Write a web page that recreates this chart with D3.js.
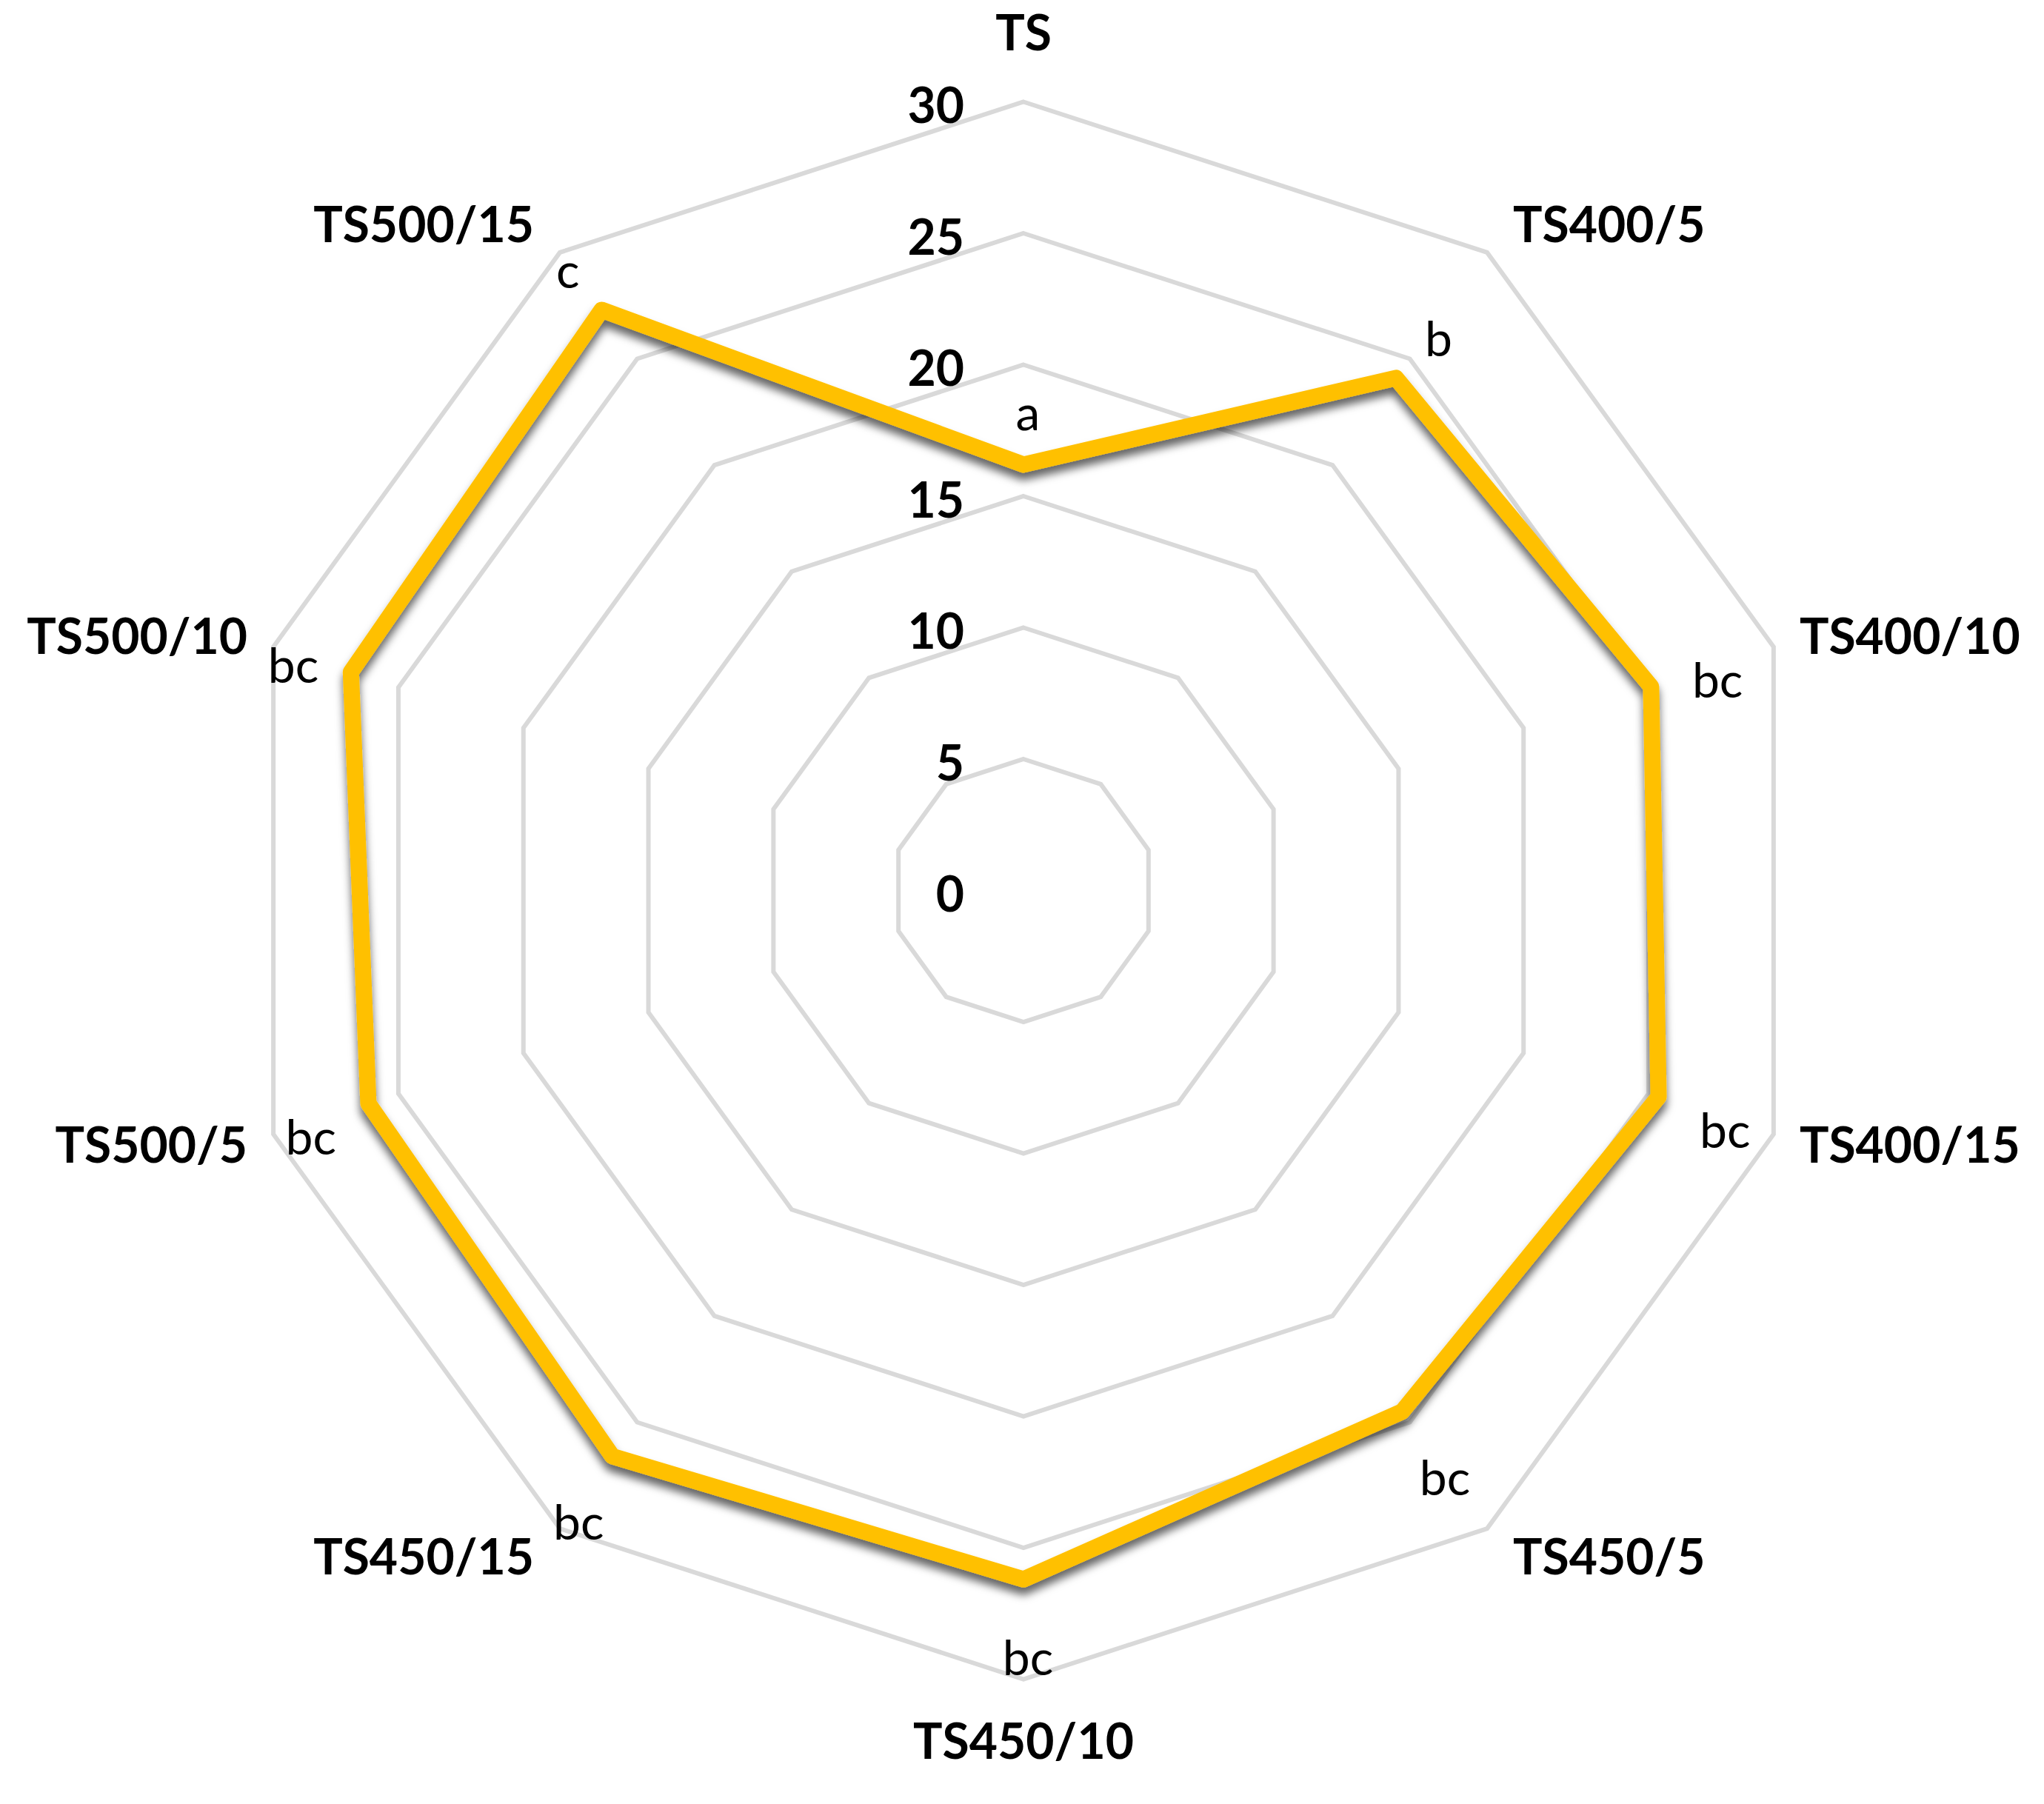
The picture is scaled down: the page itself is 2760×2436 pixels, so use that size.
<!DOCTYPE html>
<html>
<head>
<meta charset="utf-8">
<script src="https://cdn.jsdelivr.net/npm/d3@7"></script>
<style>
  body { margin: 0; background: #fff; }
  svg { display: block; }
  text { font-family: Lato, "Open Sans", sans-serif; fill: #000; }
</style>
</head>
<body>
<div id="chart"></div>
<script>
var categories = ["TS", "TS400/5", "TS400/10", "TS400/15", "TS450/5", "TS450/10", "TS450/15", "TS500/5", "TS500/10", "TS500/15"];
var values = [16.2, 24.1, 25.1, 25.4, 24.5, 26.2, 26.6, 26.2, 26.9, 27.3];
var letters = ["a", "b", "bc", "bc", "bc", "bc", "bc", "bc", "bc", "c"];
var ticks = [0, 5, 10, 15, 20, 25, 30];

var width = 2760, height = 2436,
    cx = 1382, cy = 1202.5,
    fs = 66;

var r = d3.scaleLinear().domain([0, 30]).range([0, 1065]);
var angle = d3.scaleLinear().domain([0, categories.length]).range([0, 2 * Math.PI]);

function pt(i, v) {
    var a = angle(i);
    return [Math.sin(a) * r(v), -Math.cos(a) * r(v)];
}

var svg = d3.select("#chart").append("svg")
    .attr("width", width)
    .attr("height", height);

var defs = svg.append("defs");
var f = defs.append("filter")
    .attr("id", "shadow")
    .attr("x", "-10%").attr("y", "-10%")
    .attr("width", "120%").attr("height", "125%");
f.append("feDropShadow")
    .attr("dx", 0).attr("dy", 10)
    .attr("stdDeviation", 6)
    .attr("flood-color", "#000")
    .attr("flood-opacity", 0.6);

const g = svg.append("g").attr("transform", `translate(${cx},${cy})`);

// grid rings
var ring = d3.line().curve(d3.curveLinearClosed);
g.selectAll(".ring")
    .data(ticks.filter(t => t > 0))
    .enter().append("path")
    .attr("class", "ring")
    .attr("d", t => ring(categories.map((c, i) => pt(i, t))))
    .attr("fill", "none")
    .attr("stroke", "#d9d9d9")
    .attr("stroke-width", 6);

// tick labels
g.selectAll(".tick")
    .data(ticks)
    .enter().append("text")
    .attr("class", "tick")
    .attr("x", -80)
    .attr("y", t => -r(t) + 5 + fs * 0.36)
    .attr("text-anchor", "end")
    .attr("font-weight", "bold")
    .attr("font-size", fs)
    .text(t => t);

// data line
g.append("path")
    .datum(values)
    .attr("d", ring(values.map((v, i) => pt(i, v))))
    .attr("fill", "none")
    .attr("stroke", "#FFC000")
    .attr("stroke-width", 22)
    .attr("stroke-linejoin", "round")
    .attr("filter", "url(#shadow)");

// letter labels
g.selectAll(".letter")
    .data(letters)
    .enter().append("text")
    .attr("class", "letter")
    .attr("x", (d, i) => pt(i, values[i])[0] + Math.sin(angle(i)) * 88 + 6)
    .attr("y", (d, i) => pt(i, values[i])[1] - Math.cos(angle(i)) * 88 + fs * 0.3 + 22)
    .attr("text-anchor", "middle")
    .attr("font-size", fs)
    .text(d => d);

// category labels
g.selectAll(".cat")
    .data(categories)
    .enter().append("text")
    .attr("class", "cat")
    .attr("font-weight", "bold")
    .attr("font-size", fs)
    .each(function (d, i) {
        var a = angle(i), s = Math.sin(a), c = Math.cos(a);
        var v = pt(i, 30);
        var x, y, anchor;
        if (Math.abs(s) < 0.1) {
            anchor = "middle";
            x = v[0];
            y = c > 0 ? v[1] - 70 : v[1] + 107;
        } else {
            anchor = s > 0 ? "start" : "end";
            x = v[0] + (s > 0 ? 35 : -35);
            y = v[1] - 47 * c + fs * 0.36;
        }
        d3.select(this)
            .attr("x", x)
            .attr("y", y)
            .attr("text-anchor", anchor)
            .text(d);
    });
</script>
</body>
</html>
